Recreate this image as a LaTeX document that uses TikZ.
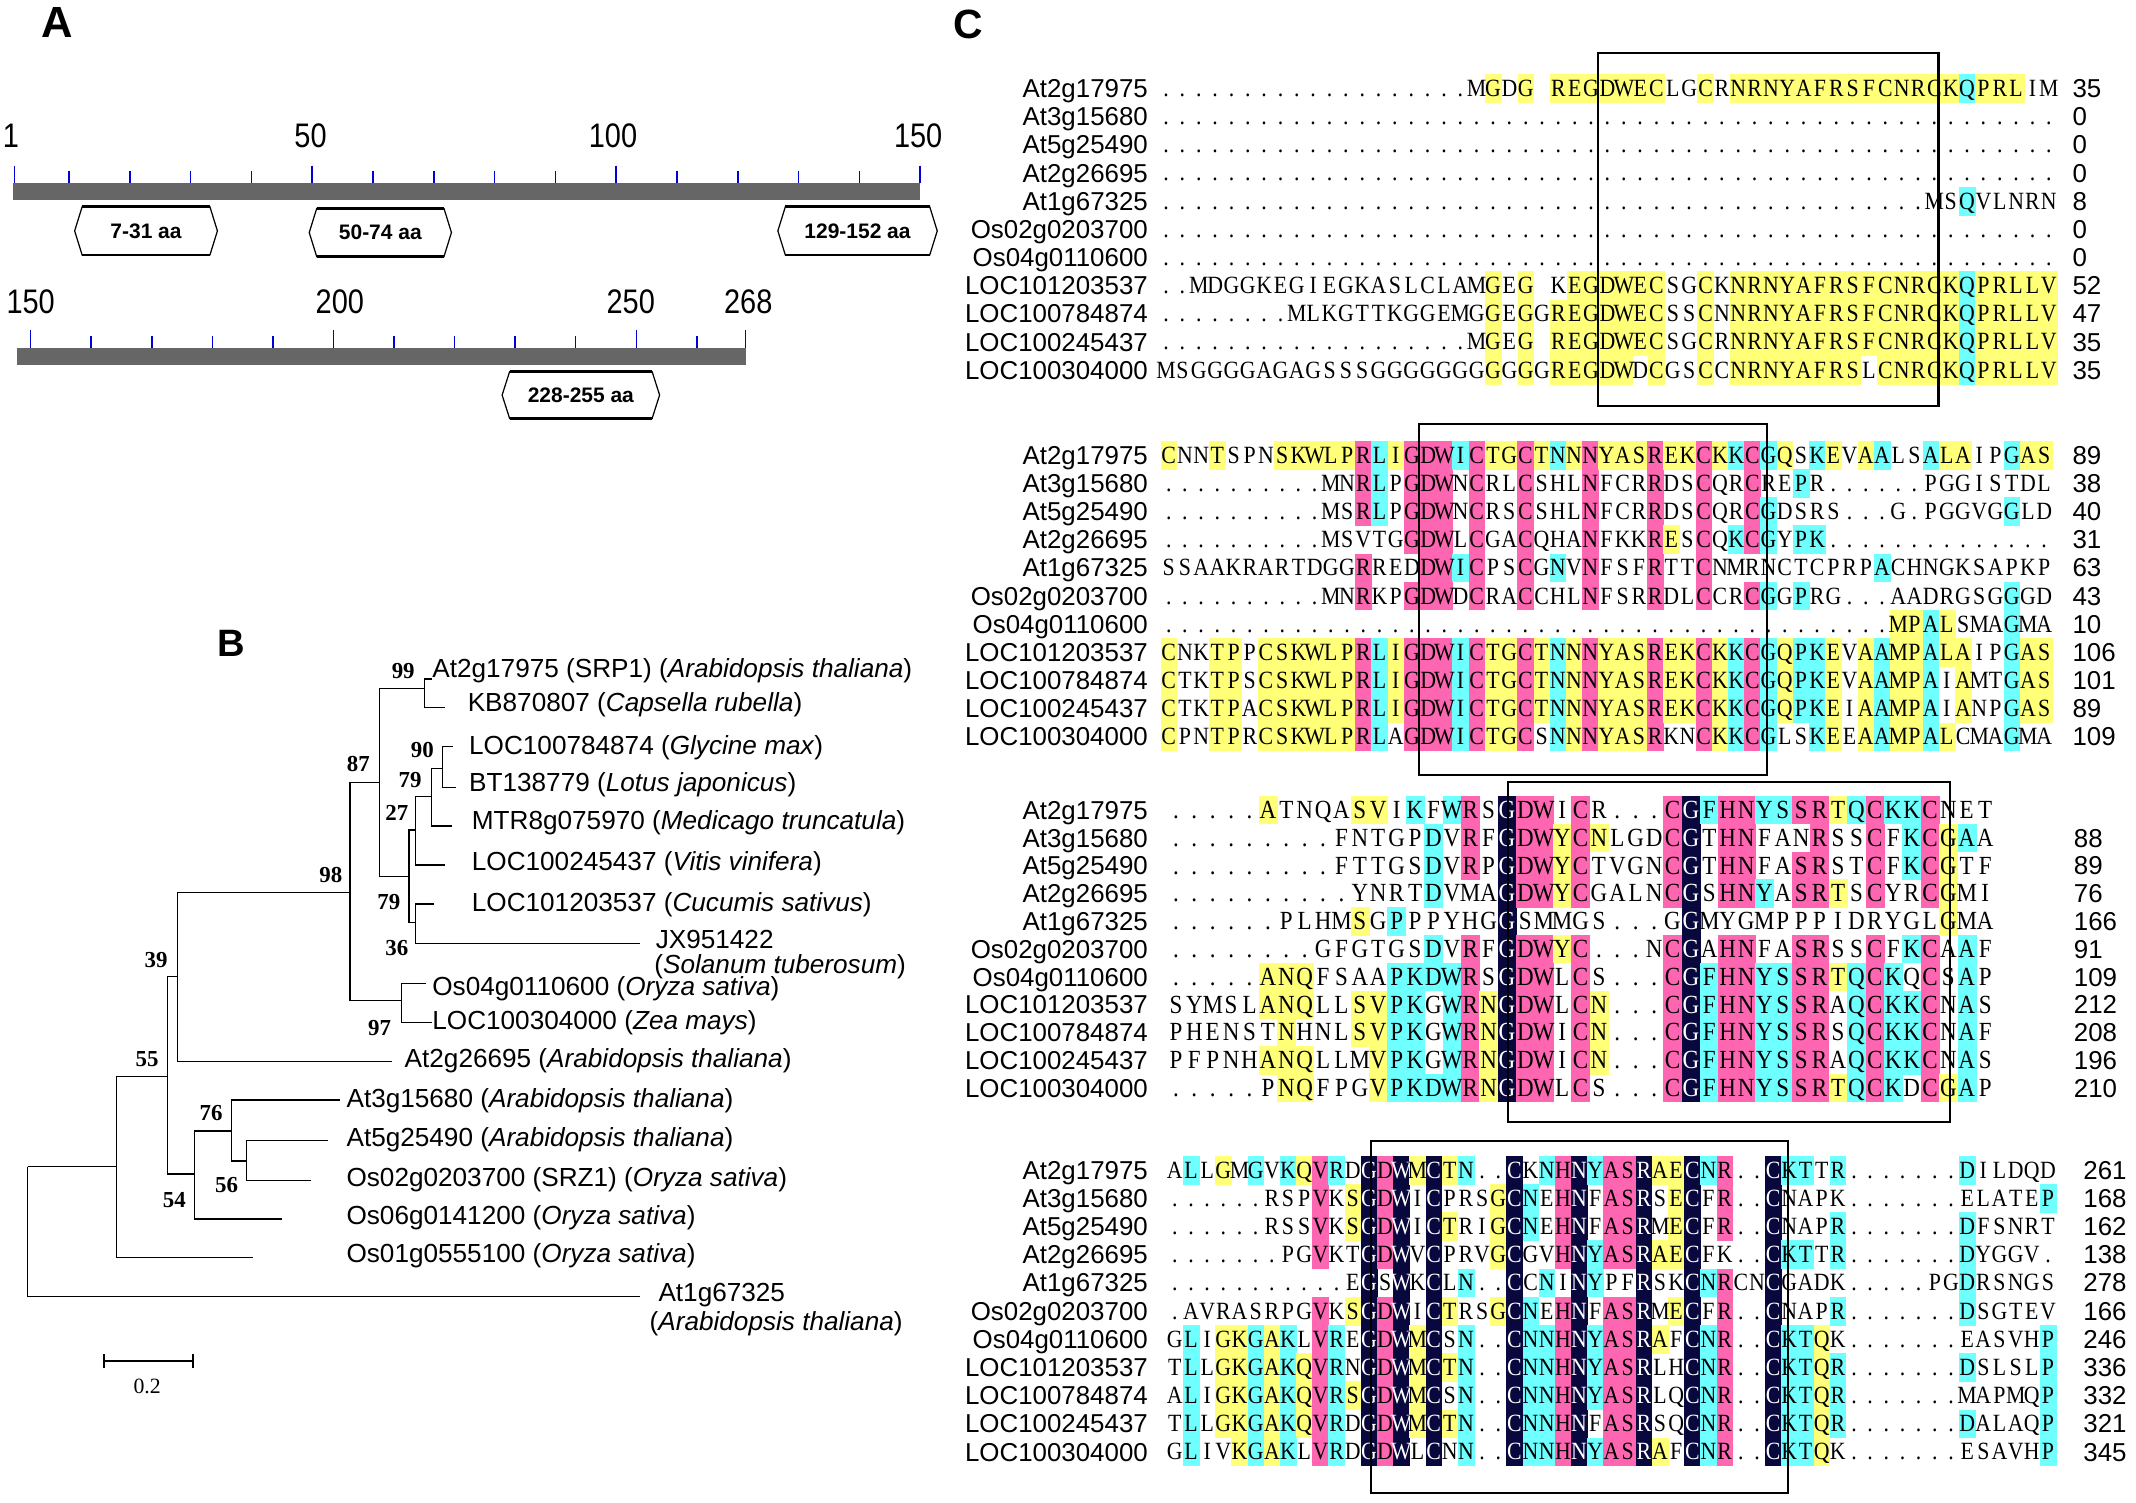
\documentclass[tikz,border=0pt]{standalone}
\usepackage{fontspec}
\setmainfont{Liberation Serif}
\newfontfamily\labfont{Liberation Sans}
\newfontfamily\seqfont[FakeStretch=0.88]{Liberation Serif}
\newfontfamily\numfont[FakeStretch=0.85]{Liberation Sans}

\definecolor{alnyellow}{RGB}{255,255,120}
\definecolor{alncyan}{RGB}{110,255,255}
\definecolor{alnpink}{RGB}{255,102,178}
\definecolor{alnnavy}{RGB}{8,8,62}
\definecolor{rulergray}{RGB}{102,102,102}
\definecolor{tickblue}{RGB}{0,0,210}

\tikzset{
  res/.style={anchor=base, inner sep=0pt},
  rowlab/.style={anchor=base east, inner sep=0pt, font=\labfont\fontsize{9.5}{11}\selectfont},
  rownum/.style={anchor=base west, inner sep=0pt, font=\labfont\fontsize{9.5}{11}\selectfont},
  leaf/.style={anchor=west, inner sep=0pt, font=\labfont\fontsize{9.6}{11}\selectfont},
  boot/.style={inner sep=0pt, font=\bfseries\fontsize{8.4}{9}\selectfont},
  branch/.style={line width=0.45pt},
  motif/.style={line width=0.75pt},
  rulertick/.style={tickblue, line width=0.55pt},
  rulernum/.style={inner sep=0pt, font=\numfont\fontsize{12.5}{14}\selectfont},
  domtext/.style={inner sep=0pt, font=\labfont\bfseries\fontsize{7.7}{9}\selectfont},
  domline/.style={line width=0.45pt, line join=miter},
  panel/.style={inner sep=0pt, font=\labfont\bfseries\fontsize{16}{18}\selectfont}
}

\ExplSyntaxOn
\cs_new:Npn \sqdots #1 { \prg_replicate:nn {#1} {.} }
\ExplSyntaxOff

\newcount\sqcount
\makeatletter
\def\sq@dot{.}
\def\sq@gap{-}
\def\sq@none{none}
\def\sq@navy{alnnavy}
\newif\ifsq@res
% one aligned row: block, row, residues
\newcommand\seqrow[3]{%
  \def\sq@n{0}%
  \edef\sq@list{#3}%
  \expandafter\sq@store\expandafter{\sq@list}{#1}{#2}}
\newcommand\sq@store[3]{%
  \@tfor\sq@c:=#1\do{%
    \edef\sq@n{\the\numexpr\sq@n+1\relax}%
    \expandafter\let\csname sq@#2@#3@\sq@n\endcsname\sq@c}}
\newcommand\sq@isres[1]{%
  \sq@restrue
  \ifx#1\sq@dot\sq@resfalse\fi
  \ifx#1\sq@gap\sq@resfalse\fi
  \ifx#1\relax\sq@resfalse\fi}
% block, columns, x0, pitch, y0, row step, font, baseline shift
\newcommand\alnblock[8]{%
  \foreach \ci in {1,...,#2}{%
    \gdef\sq@best{0}\global\let\sq@bc\relax
    \foreach \ri in {1,...,11}{%
      \expandafter\let\expandafter\sq@cand\csname sq@#1@\ri @\ci\endcsname
      \sq@isres\sq@cand
      \ifsq@res
        \global\sqcount=0\relax
        \foreach \si in {1,...,11}{%
          \expandafter\ifx\csname sq@#1@\si @\ci\endcsname\sq@cand
            \global\advance\sqcount by 1\relax
          \fi}%
        \ifnum\sqcount>\sq@best\relax
          \xdef\sq@best{\the\sqcount}%
          \global\let\sq@bc\sq@cand
        \fi
      \fi}%
    \ifnum\sq@best=11 \gdef\sq@fill{alnnavy}%
    \else\ifnum\sq@best>8 \gdef\sq@fill{alnpink}%
    \else\ifnum\sq@best>5 \gdef\sq@fill{alncyan}%
    \else\ifnum\sq@best>3 \gdef\sq@fill{alnyellow}%
    \else\gdef\sq@fill{none}\fi\fi\fi\fi
    \ifx\sq@fill\sq@none\else
      \foreach \ri in {1,...,11}{%
        \expandafter\ifx\csname sq@#1@\ri @\ci\endcsname\sq@bc
          \fill[\sq@fill] ({#3+(\ci-1)*#4},{#5+(\ri-1.5)*#6}) rectangle ++({#4+0.4},{#6+0.4});
          \ifx\sq@fill\sq@navy
            \expandafter\gdef\csname sq@w@#1@\ri @\ci\endcsname{}%
          \fi
        \fi}%
    \fi}%
  \foreach \ci in {1,...,#2}{%
    \foreach \ri in {1,...,11}{%
      \expandafter\let\expandafter\sq@cand\csname sq@#1@\ri @\ci\endcsname
      \ifx\sq@cand\sq@gap\else\ifx\sq@cand\relax\else
        \expandafter\ifx\csname sq@w@#1@\ri @\ci\endcsname\relax
          \def\sq@tc{black}\else\def\sq@tc{white}\fi
        \node[res, text=\sq@tc, font=#7] (r#1-\ri-\ci) at ({#3+(\ci-.5)*#4},{#5+(\ri-1)*#6+#8}) {\sq@cand};
      \fi\fi}}}
\makeatother

% block, y0, row step, x of numbers, numbers
\newcommand\alnlabels[5]{%
  \foreach \nm [count=\ri] in {At2g17975,At3g15680,At5g25490,At2g26695,At1g67325,Os02g0203700,Os04g0110600,LOC101203537,LOC100784874,LOC100245437,LOC100304000}{%
    \node[rowlab] (lab#1-\ri) at (843,{#2+(\ri-1)*#3+6.8}) {\nm};}
  \foreach \nn [count=\ri] in {#5}{%
    \node[rownum] (num#1-\ri) at (#4,{#2+(\ri-1)*#3+6.8}) {\nn};}}

% name, centre x, centre y, half width, half height, text
\newcommand\dombox[6]{%
  \node[domtext] (#1) at (#2,#3) {#6};
  \draw[domline] ({#2-#4},#3) -- ({#2-#4+5.5},{#3-#5}) -- ({#2+#4-5.5},{#3-#5})
    -- ({#2+#4},#3) -- ({#2+#4-5.5},{#3+#5}) -- ({#2-#4+5.5},{#3+#5}) -- cycle;
  \draw[line width=1pt] ({#2-#4+5.5},{#3-#5}) -- ({#2+#4-5.5},{#3-#5})
    ({#2-#4+5.5},{#3+#5}) -- ({#2+#4-5.5},{#3+#5});}

% alignment rows
\seqrow{1}{1}{\sqdots{19}MGDG-REGDWECLGCRNRNYAFRSFCNRCKQPRLIM}
\seqrow{1}{2}{\sqdots{55}}
\seqrow{1}{3}{\sqdots{55}}
\seqrow{1}{4}{\sqdots{55}}
\seqrow{1}{5}{\sqdots{47}MSQVLNRN}
\seqrow{1}{6}{\sqdots{55}}
\seqrow{1}{7}{\sqdots{55}}
\seqrow{1}{8}{..MDGGKEGIEGKASLCLAMGEG-KEGDWECSGCKNRNYAFRSFCNRCKQPRLLV}
\seqrow{1}{9}{\sqdots{8}MLKGTTKGGEMGGEGGREGDWECSSCNNRNYAFRSFCNRCKQPRLLV}
\seqrow{1}{10}{\sqdots{19}MGEG-REGDWECSGCRNRNYAFRSFCNRCKQPRLLV}
\seqrow{1}{11}{MSGGGGAGAGSSSGGGGGGGGGGGREGDWDCGSCCNRNYAFRSLCNRCKQPRLLV}

\seqrow{2}{1}{CNNTSPNSKWLPRLIGDWICTGCTNNNYASREKCKKCGQSKEVAALSALAIPGAS}
\seqrow{2}{2}{\sqdots{10}MNRLPGDWNCRLCSHLNFCRRDSCQRCREPR\sqdots{6}PGGISTDL}
\seqrow{2}{3}{\sqdots{10}MSRLPGDWNCRSCSHLNFCRRDSCQRCGDSRS\sqdots{3}G.PGGVGGLD}
\seqrow{2}{4}{\sqdots{10}MSVTGGDWLCGACQHANFKKRESCQKCGYPK\sqdots{14}}
\seqrow{2}{5}{SSAAKRARTDGGRREDDWICPSCGNVNFSFRTTCNMRNCTCPRPACHNGKSAPKP}
\seqrow{2}{6}{\sqdots{10}MNRKPGDWDCRACCHLNFSRRDLCCRCGGPRG\sqdots{3}AADRGSGGGD}
\seqrow{2}{7}{\sqdots{45}MPALSMAGMA}
\seqrow{2}{8}{CNKTPPCSKWLPRLIGDWICTGCTNNNYASREKCKKCGQPKEVAAMPALAIPGAS}
\seqrow{2}{9}{CTKTPSCSKWLPRLIGDWICTGCTNNNYASREKCKKCGQPKEVAAMPAIAMTGAS}
\seqrow{2}{10}{CTKTPACSKWLPRLIGDWICTGCTNNNYASREKCKKCGQPKEIAAMPAIANPGAS}
\seqrow{2}{11}{CPNTPRCSKWLPRLAGDWICTGCSNNNYASRKNCKKCGLSKEEAAMPALCMAGMA}

\seqrow{3}{1}{\sqdots{5}ATNQASVIKFWRSGDWICR\sqdots{3}CGFHNYSSRTQCKKCNET}
\seqrow{3}{2}{\sqdots{9}FNTGPDVRFGDWYCNLGDCGTHNFANRSSCFKCGAA}
\seqrow{3}{3}{\sqdots{9}FTTGSDVRPGDWYCTVGNCGTHNFASRSTCFKCGTF}
\seqrow{3}{4}{\sqdots{10}YNRTDVMAGDWYCGALNCGSHNYASRTSCYRCGMI}
\seqrow{3}{5}{\sqdots{6}PLHMSGPPPYHGGSMMGS\sqdots{3}GGMYGMPPPIDRYGLGMA}
\seqrow{3}{6}{\sqdots{8}GFGTGSDVRFGDWYC\sqdots{3}NCGAHNFASRSSCFKCAAF}
\seqrow{3}{7}{\sqdots{5}ANQFSAAPKDWRSGDWLCS\sqdots{3}CGFHNYSSRTQCKQCSAP}
\seqrow{3}{8}{SYMSLANQLLSVPKGWRNGDWLCN\sqdots{3}CGFHNYSSRAQCKKCNAS}
\seqrow{3}{9}{PHENSTNHNLSVPKGWRNGDWICN\sqdots{3}CGFHNYSSRSQCKKCNAF}
\seqrow{3}{10}{PFPNHANQLLMVPKGWRNGDWICN\sqdots{3}CGFHNYSSRAQCKKCNAS}
\seqrow{3}{11}{\sqdots{5}PNQFPGVPKDWRNGDWLCS\sqdots{3}CGFHNYSSRTQCKDCGAP}

\seqrow{4}{1}{ALLGMGVKQVRDGDWMCTN..CKNHNYASRAECNR..CKTTR\sqdots{7}DILDQD}
\seqrow{4}{2}{\sqdots{6}RSPVKSGDWICPRSGCNEHNFASRSECFR..CNAPK\sqdots{7}ELATEP}
\seqrow{4}{3}{\sqdots{6}RSSVKSGDWICTRIGCNEHNFASRMECFR..CNAPR\sqdots{7}DFSNRT}
\seqrow{4}{4}{\sqdots{7}PGVKTGDWVCPRVGCGVHNYASRAECFK..CKTTR\sqdots{7}DYGGV.}
\seqrow{4}{5}{\sqdots{11}EGSWKCLN..CCNINYPFRSKCNRCNCGADK\sqdots{5}PGDRSNGS}
\seqrow{4}{6}{.AVRASRPGVKSGDWICTRSGCNEHNFASRMECFR..CNAPR\sqdots{7}DSGTEV}
\seqrow{4}{7}{GLIGKGAKLVREGDWMCSN..CNNHNYASRAFCNR..CKTQK\sqdots{7}EASVHP}
\seqrow{4}{8}{TLLGKGAKQVRNGDWMCTN..CNNHNYASRLHCNR..CKTQR\sqdots{7}DSLSLP}
\seqrow{4}{9}{ALIGKGAKQVRSGDWMCSN..CNNHNYASRLQCNR..CKTQR\sqdots{7}MAPMQP}
\seqrow{4}{10}{TLLGKGAKQVRDGDWMCTN..CNNHNFASRSQCNR..CKTQR\sqdots{7}DALAQP}
\seqrow{4}{11}{GLIVKGAKLVRDGDWLCNN..CNNHNYASRAFCNR..CKTQK\sqdots{7}ESAVHP}

\begin{document}
\begin{tikzpicture}[x=0.5pt,y=-0.5pt]
\useasboundingbox (0,0) rectangle (1568,1103);
\fill[white] (0,0) rectangle (1568,1103);

% panel letters
\node[panel] (pA) at (41.8,16.5) {A};
\node[panel, font=\labfont\bfseries\fontsize{14}{16}\selectfont] (pB) at (170,472) {B};
\node[panel, font=\labfont\bfseries\fontsize{15}{17}\selectfont] (pC) at (711,18) {C};

% A: protein rulers
\fill[rulergray] (9.9,134.1) rectangle (675.5,146.8);
\foreach \v in {10,20,30,40,60,70,80,90,110,120,130,140}
  \draw[rulertick] ({10.5+(\v-1)*4.463},125.3) -- ({10.5+(\v-1)*4.463},134.1);
\foreach \v in {1,50,100,150}
  \draw[rulertick] ({10.5+(\v-1)*4.463},121.6) -- ({10.5+(\v-1)*4.463},134.1);
\node[rulernum] (a1) at (8,99.8) {1};
\node[rulernum] (a50) at (228,99.8) {50};
\node[rulernum] (a100) at (450,99.8) {100};
\node[rulernum] (a150) at (674,99.8) {150};

\fill[rulergray] (12.6,255.2) rectangle (547.5,268);
\foreach \v in {160,170,180,190,210,220,230,240,260}
  \draw[rulertick] ({22.5+(\v-150)*4.446},246.7) -- ({22.5+(\v-150)*4.446},255.2);
\foreach \v in {150,200,250,268}
  \draw[rulertick] ({22.5+(\v-150)*4.446},242.3) -- ({22.5+(\v-150)*4.446},255.2);
\node[rulernum] (b150) at (22.5,221.5) {150};
\node[rulernum] (b200) at (249.5,221.5) {200};
\node[rulernum] (b250) at (463,221.5) {250};
\node[rulernum] (b268) at (549.3,221.5) {268};

\dombox{dom1}{107.2}{169.5}{52.4}{17.7}{7-31 aa}
\dombox{dom2}{279.2}{170.7}{52.2}{17.7}{50-74 aa}
\dombox{dom3}{629.5}{169.5}{58.5}{17.7}{129-152 aa}
\dombox{dom4}{426.4}{290}{57.8}{17.2}{228-255 aa}

% B: tree
\coordinate (t1) at (317,498.5);
\coordinate (t2) at (327,519.5);
\coordinate (t3) at (332.7,548.1);
\coordinate (t4) at (335,578);
\coordinate (t5) at (331.8,606.4);
\coordinate (t6) at (326.8,635);
\coordinate (t7) at (318.3,663.6);
\coordinate (t8) at (469.8,692.5);
\coordinate (t9) at (312.4,721.9);
\coordinate (t10) at (316.9,750.7);
\coordinate (t11) at (287.7,779.4);
\coordinate (t12) at (249.5,807.5);
\coordinate (t13) at (240.5,837.4);
\coordinate (t14) at (228,866.3);
\coordinate (t15) at (206.8,894.9);
\coordinate (t16) at (185.7,923.3);
\coordinate (t17) at (469.8,951.9);

\coordinate (n99) at (311.5,505.3);
\coordinate (n90) at (324.6,564);
\coordinate (n79a) at (316.9,584.8);
\coordinate (n27) at (304.8,609.3);
\coordinate (n36) at (304.8,677.3);
\coordinate (n79b) at (300.3,643.6);
\coordinate (n87) at (278.7,574.6);
\coordinate (n97) at (294.5,734.5);
\coordinate (n98) at (257,655.3);
\coordinate (n39) at (130.4,717);
\coordinate (n56) at (180.7,852.3);
\coordinate (n76) at (170,830.3);
\coordinate (n54) at (143,861.8);
\coordinate (n55) at (122.7,790);
\coordinate (n35) at (85.4,856.4);
\coordinate (root) at (20.2,856.4);

\draw[branch] (n99) |- (t1) (n99) |- (t2);
\draw[branch] (n90) |- (t3) (n90) |- (t4);
\draw[branch] (n79a) |- (n90) (n79a) |- (t5);
\draw[branch] (n27) |- (n79a) (n27) |- (t6);
\draw[branch] (n36) |- (t7) (n36) |- (t8);
\draw[branch] (n79b) |- (n27) (n79b) |- (n36);
\draw[branch] (n87) |- (n99) (n87) |- (n79b);
\draw[branch] (n97) |- (t9) (n97) |- (t10);
\draw[branch] (n98) |- (n87) (n98) |- (n97);
\draw[branch] (n39) |- (n98) (n39) |- (t11);
\draw[branch] (n56) |- (t13) (n56) |- (t14);
\draw[branch] (n76) |- (t12) (n76) |- (n56);
\draw[branch] (n54) |- (n76) (n54) |- (t15);
\draw[branch] (n55) |- (n39) (n55) |- (n54);
\draw[branch] (n35) |- (n55) (n35) |- (t16);
\draw[branch] (root) |- (n35) (root) |- (t17);

\node[leaf] (l1) at (317,492.6) {At2g17975 (SRP1) (\textit{Arabidopsis thaliana})};
\node[leaf] (l2) at (343,517.5) {KB870807 (\textit{Capsella rubella})};
\node[leaf] (l3) at (344,549) {LOC100784874 (\textit{Glycine max})};
\node[leaf] (l4) at (344,576) {BT138779 (\textit{Lotus japonicus})};
\node[leaf] (l5) at (346,604) {MTR8g075970 (\textit{Medicago truncatula})};
\node[leaf] (l6) at (346,634) {LOC100245437 (\textit{Vitis vinifera})};
\node[leaf] (l7) at (346,664) {LOC101203537 (\textit{Cucumis sativus})};
\node[leaf] (l8) at (481,690) {JX951422};
\node[leaf] (l8b) at (480,710) {(\textit{Solanum tuberosum})};
\node[leaf] (l9) at (317,726) {Os04g0110600 (\textit{Oryza sativa})};
\node[leaf] (l10) at (317,751) {LOC100304000 (\textit{Zea mays})};
\node[leaf] (l11) at (296.7,779) {At2g26695 (\textit{Arabidopsis thaliana})};
\node[leaf] (l12) at (254,808) {At3g15680 (\textit{Arabidopsis thaliana})};
\node[leaf] (l13) at (254,837) {At5g25490 (\textit{Arabidopsis thaliana})};
\node[leaf] (l14) at (254,866) {Os02g0203700 (SRZ1) (\textit{Oryza sativa})};
\node[leaf] (l15) at (254,894) {Os06g0141200 (\textit{Oryza sativa})};
\node[leaf] (l16) at (254,922) {Os01g0555100 (\textit{Oryza sativa})};
\node[leaf] (l17) at (483,951) {At1g67325};
\node[leaf] (l17b) at (476.5,971.5) {(\textit{Arabidopsis thaliana})};

\node[boot] (b99) at (296,492.6) {99};
\node[boot] (b87) at (263,561) {87};
\node[boot] (b90) at (310,550.5) {90};
\node[boot] (b79a) at (301,572.7) {79};
\node[boot] (b27) at (291.3,597.1) {27};
\node[boot] (b98) at (242.8,642) {98};
\node[boot] (b79b) at (285.5,662) {79};
\node[boot] (b36) at (291.3,696.2) {36};
\node[boot] (b39) at (114.6,704.8) {39};
\node[boot] (b97) at (278.7,755) {97};
\node[boot] (b55) at (108,777.7) {55};
\node[boot] (b76) at (155,817.3) {76};
\node[boot] (b56) at (166.3,870) {56};
\node[boot] (b54) at (128,881) {54};

% scale bar
\coordinate (sb1) at (76.4,999);
\coordinate (sb2) at (141.6,999);
\draw[line width=0.75pt] (sb1) -- (sb2);
\draw[line width=0.75pt] ([yshift=2.6pt]sb1) -- ([yshift=-2.6pt]sb1);
\draw[line width=0.75pt] ([yshift=2.6pt]sb2) -- ([yshift=-2.6pt]sb2);
\node[font=\fontsize{8}{9}\selectfont, inner sep=0pt] (sbl) at (108,1018) {0.2};

% C: alignment
\alnblock{1}{55}{850}{12.0}{64.8}{20.68}{\seqfont\fontsize{9.1}{10}\selectfont}{6.0}
\alnblock{2}{55}{852}{11.9}{334}{20.68}{\seqfont\fontsize{9.1}{10}\selectfont}{6.0}
\alnblock{3}{45}{856.5}{13.5}{594.6}{20.4}{\seqfont\fontsize{9.6}{10}\selectfont}{6.3}
\alnblock{4}{55}{856.5}{11.87}{858.9}{20.68}{\seqfont\fontsize{9.1}{10}\selectfont}{6.0}

\alnlabels{1}{64.8}{20.68}{1521}{35,0,0,0,8,0,0,52,47,35,35}
\alnlabels{2}{334}{20.68}{1521}{89,38,40,31,63,43,10,106,101,89,109}
\alnlabels{3}{594.6}{20.4}{1522}{{},88,89,76,166,91,109,212,208,196,210}
\alnlabels{4}{858.9}{20.68}{1529}{261,168,162,138,278,166,246,336,332,321,345}

\draw[motif] (1173,38.7) rectangle (1423,298);
\draw[motif] (1041.7,311.3) rectangle (1297,569);
\draw[motif] (1106.7,573.8) rectangle (1431.5,823.4);
\draw[motif] (1006.7,837.4) rectangle (1312.2,1095.8);

\end{tikzpicture}
\end{document}
